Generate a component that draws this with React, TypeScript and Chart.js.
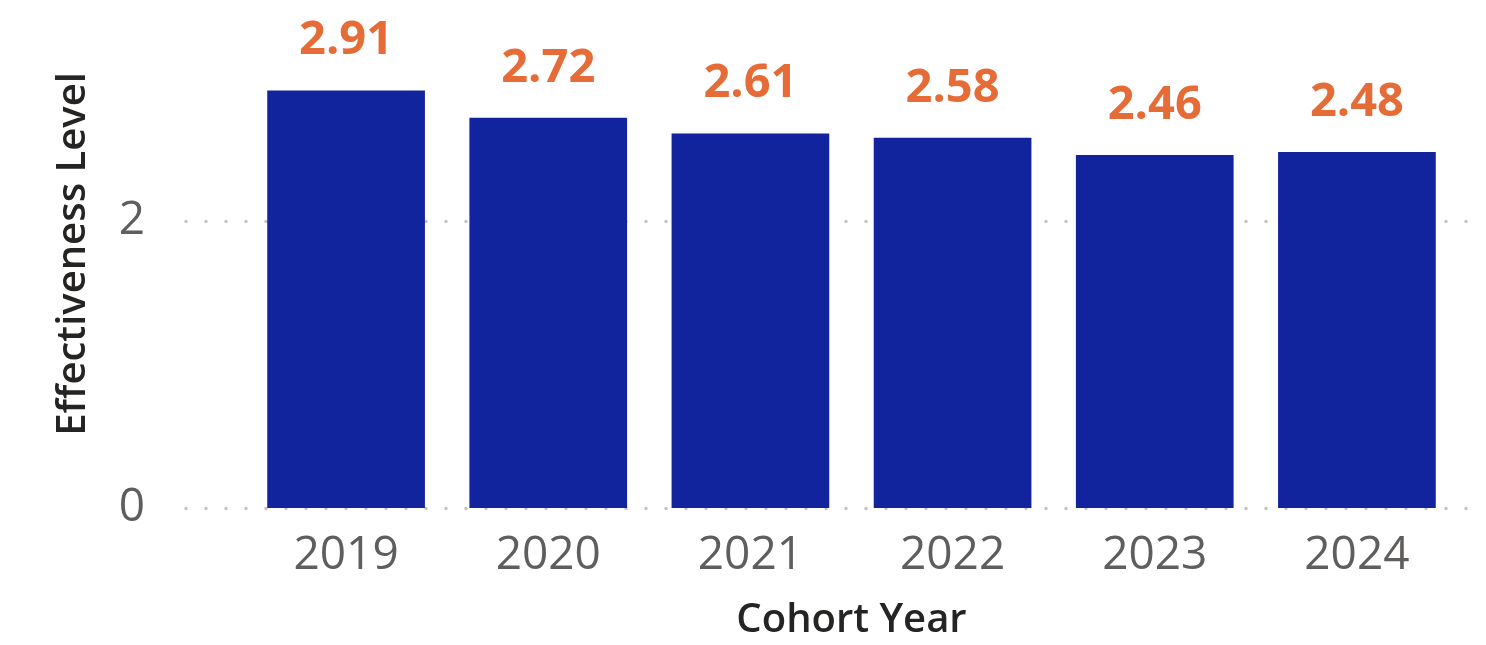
import React, { useEffect, useRef } from "react";
import { Chart, registerables } from "chart.js";

Chart.register(...registerables);

const categories = ["2019", "2020", "2021", "2022", "2023", "2024"];
const values = [2.91, 2.72, 2.61, 2.58, 2.46, 2.48];
const valueLabels = ["2.91", "2.72", "2.61", "2.58", "2.46", "2.48"];
const yTicks = [0, 2];
const yTitle = "Effectiveness Level";
const xTitle = "Cohort Year";

const FONT = "'Open Sans', 'Noto Sans', sans-serif";

const dottedGrid = {
  id: "dottedGrid",
  beforeDatasetsDraw(chart: any) {
    const { ctx, scales } = chart;
    const y = scales.y;
    ctx.save();
    ctx.strokeStyle = "#C3C3C3";
    ctx.lineWidth = 3.5;
    ctx.lineCap = "round";
    ctx.setLineDash([0, 20]);
    for (const t of yTicks) {
      const py = Math.round(y.getPixelForValue(t)) + 0.5;
      ctx.beginPath();
      ctx.moveTo(186, py);
      ctx.lineTo(chart.width, py);
      ctx.stroke();
    }
    ctx.restore();
  },
};

const valueLabelPlugin = {
  id: "valueLabels",
  afterDatasetsDraw(chart: any) {
    const { ctx } = chart;
    const meta = chart.getDatasetMeta(0);
    ctx.save();
    ctx.fillStyle = "#E66C37";
    ctx.font = `bold 47px ${FONT}`;
    ctx.textAlign = "center";
    ctx.textBaseline = "alphabetic";
    meta.data.forEach((bar: any, i: number) => {
      ctx.fillText(valueLabels[i], bar.x, bar.y - 36);
    });
    ctx.restore();
  },
};

export default function App() {
  const ref = useRef<HTMLCanvasElement | null>(null);

  useEffect(() => {
    if (!ref.current) return;
    const chart = new Chart(ref.current, {
      type: "bar",
      data: {
        labels: categories,
        datasets: [
          {
            data: values,
            backgroundColor: "#12239E",
            categoryPercentage: 1,
            barPercentage: 0.78,
          },
        ],
      },
      options: {
        animation: false,
        responsive: false,
        maintainAspectRatio: false,
        layout: { padding: { left: 0, right: 28, top: 0, bottom: 0 } },
        plugins: {
          legend: { display: false },
          tooltip: { enabled: false },
        },
        scales: {
          x: {
            grid: { display: false, drawTicks: false },
            border: { display: false },
            ticks: {
              color: "#605E5C",
              font: { family: FONT, size: 46 },
              padding: 20,
              maxRotation: 0,
            },
            title: {
              display: true,
              text: xTitle,
              color: "#252423",
              font: { family: FONT, size: 40, weight: "600" },
              padding: { top: 0, bottom: 0 },
            },
            afterFit(scale: any) {
              scale.height = 137;
              scale.paddingLeft = 0;
              scale.paddingRight = 0;
            },
          },
          y: {
            min: 0,
            max: 3.54,
            grid: { display: false, drawTicks: false },
            border: { display: false },
            ticks: {
              color: "#605E5C",
              font: { family: FONT, size: 46 },
              padding: 100,
              stepSize: 2,
              includeBounds: false,
              callback: (v: any) => (yTicks.includes(Number(v)) ? String(v) : ""),
            },
            title: {
              display: true,
              text: yTitle,
              color: "#252423",
              font: { family: FONT, size: 40, weight: "600" },
              padding: { top: 50, bottom: 0 },
            },
            afterFit(scale: any) {
              scale.width = 245;
              scale.paddingTop = 0;
              scale.paddingBottom = 0;
            },
          },
        },
      },
      plugins: [dottedGrid, valueLabelPlugin],
    });
    return () => chart.destroy();
  }, []);

  return (
    <div style={{ position: "fixed", left: 0, top: 0, width: 1486, height: 645, background: "#fff" }}>
      <canvas ref={ref} width={1486} height={645} style={{ width: 1486, height: 645 }} />
    </div>
  );
}
